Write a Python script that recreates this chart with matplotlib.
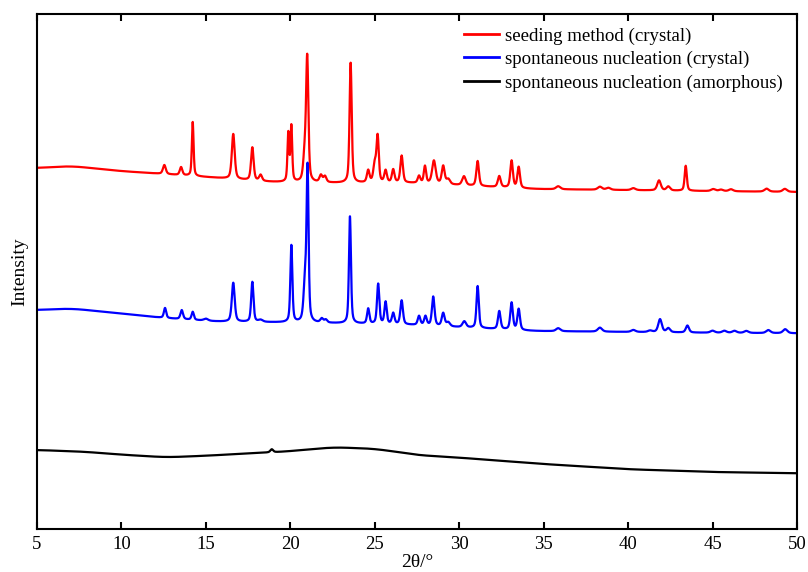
import numpy as np
import matplotlib
matplotlib.use("Agg")
import matplotlib.pyplot as plt

plt.rcParams['font.family'] = ['Liberation Serif', 'DejaVu Serif']

# ---------------- data (intensity in a.u.) ----------------
# baselines: anchor 2theta values and intensity
red_base_x = [5, 7, 9.9, 12.5, 15.8, 18.8, 22.8, 27.3, 34.4, 44.3, 50]
red_base_y = [361, 363, 358, 355, 351, 347, 346, 346, 340, 338, 337]

blue_base_x = [5, 7, 9.9, 12.5, 15.8, 18.8, 22.8, 27.3, 34.4, 44.3, 50]
blue_base_y = [219, 220.5, 215.7, 211, 207.3, 206.7, 205.7, 204, 198, 196.3, 195.7]

black_base_x = [5, 7.74, 10.31, 12.68, 15.05, 17.61, 19.58, 22.54, 24.91, 26.49, 27.48,
                30.04, 34.98, 40.1, 45.04, 50]
black_base_y = [79, 77.3, 74, 71.7, 73.3, 75.7, 77.3, 81.7, 80.3, 76.7, 74,
                71.3, 65, 59.7, 57, 55.7]

# peaks: position (2theta), height above baseline, FWHM
red_peak_pos = [12.54, 13.53, 14.22, 16.62, 17.75, 18.24, 19.88, 20.06, 20.85, 21.0,
                21.81, 22.05, 23.57, 24.61, 25.0, 25.17, 25.64, 26.09, 26.59, 27.62,
                27.97, 28.5, 29.05, 29.35, 30.28, 31.09, 32.37, 33.1, 33.52, 35.86,
                38.33, 38.83, 40.31, 41.83, 42.38, 43.41, 45.04, 45.5, 46.09, 48.2, 49.28]
red_peak_h = [9, 8, 54, 45, 33, 6, 48, 55, 25, 122,
              7, 6, 120, 12, 18, 45, 12, 13, 27, 7,
              17, 23, 18, 5, 9, 25, 11, 27, 21, 3,
              3, 2, 2, 10, 4, 25, 2, 1.5, 2, 3, 3]
red_peak_w = [0.2, 0.18, 0.12, 0.2, 0.18, 0.2, 0.12, 0.12, 0.2, 0.16,
              0.2, 0.2, 0.15, 0.18, 0.2, 0.16, 0.18, 0.18, 0.18, 0.18,
              0.16, 0.25, 0.2, 0.25, 0.25, 0.18, 0.2, 0.18, 0.18, 0.3,
              0.3, 0.3, 0.3, 0.25, 0.25, 0.15, 0.3, 0.3, 0.3, 0.3, 0.3]

blue_peak_pos = [12.58, 13.57, 14.22, 15.0, 16.62, 17.75, 18.24, 20.06, 20.87, 21.02,
                 21.86, 22.1, 23.53, 24.61, 25.2, 25.64, 26.09, 26.59, 27.62, 28.0,
                 28.46, 29.05, 29.35, 30.3, 31.09, 32.37, 33.1, 33.52, 35.86, 38.33,
                 40.31, 41.3, 41.89, 42.38, 43.51, 45.0, 45.7, 46.3, 47.0, 48.3, 49.3]
blue_peak_h = [10, 9, 8, 2, 39, 40, 2, 77, 38, 150,
               4, 3, 107, 15, 40, 22, 11, 24, 9, 9,
               29, 13, 4, 6, 42, 18, 27, 21, 3, 4,
               2, 1.5, 13, 4, 7, 2, 2, 2, 2, 3, 4]
blue_peak_w = [0.16, 0.18, 0.16, 0.3, 0.2, 0.16, 0.3, 0.14, 0.2, 0.14,
               0.2, 0.2, 0.14, 0.16, 0.16, 0.16, 0.18, 0.18, 0.18, 0.18,
               0.18, 0.2, 0.25, 0.25, 0.16, 0.18, 0.18, 0.18, 0.3, 0.3,
               0.3, 0.3, 0.25, 0.25, 0.22, 0.3, 0.3, 0.3, 0.3, 0.3, 0.3]

black_peak_pos = [18.9]
black_peak_h = [3]
black_peak_w = [0.2]

labels = ['seeding method (crystal)', 'spontaneous nucleation (crystal)',
          'spontaneous nucleation (amorphous)']
colors = ['#ff0000', '#0000ff', '#000000']
xticks = [5, 10, 15, 20, 25, 30, 35, 40, 45, 50]


def smooth_baseline(x, bx, by, win=1.6):
    # piecewise baseline through the read anchors, softened by a moving average
    dx = x[1] - x[0]
    n = max(3, int(win / dx) | 1)
    y = np.interp(x, bx, by)
    pad = n // 2
    yp = np.concatenate([np.full(pad, y[0]), y, np.full(pad, y[-1])])
    return np.convolve(yp, np.ones(n) / n, mode='valid')


def pattern(x, bx, by, pos, h, w):
    y = smooth_baseline(x, bx, by)
    for p, a, fw in zip(pos, h, w):
        s = fw / 2.0
        lor = 1.0 / (1.0 + ((x - p) / s) ** 2)
        gau = np.exp(-np.log(2) * ((x - p) / s) ** 2)
        y = y + a * (0.5 * lor + 0.5 * gau)
    return y


x = np.linspace(5, 50, 4501)
series = [
    pattern(x, red_base_x, red_base_y, red_peak_pos, red_peak_h, red_peak_w),
    pattern(x, blue_base_x, blue_base_y, blue_peak_pos, blue_peak_h, blue_peak_w),
    pattern(x, black_base_x, black_base_y, black_peak_pos, black_peak_h, black_peak_w),
]

fig = plt.figure(figsize=(8.08, 5.72), dpi=100)
ax = fig.add_axes([0.0458, 0.0752, 0.9406, 0.9003])

for y, lab, c in zip(series, labels, colors):
    ax.plot(x, y, color=c, lw=1.6, label=lab)

ax.set_xlim(5, 50)
ax.set_ylim(0, 515)
ax.set_xticks(xticks)
ax.set_yticks([])
ax.tick_params(axis='x', direction='in', top=True, bottom=True, length=5, width=1.5,
               labelsize=13.5, pad=5)
for sp in ax.spines.values():
    sp.set_linewidth(1.5)
ax.set_xlabel('2θ/°', fontsize=14, labelpad=1)
ax.set_ylabel('Intensity', fontsize=14, labelpad=6)

leg = ax.legend(loc='upper right', frameon=False, fontsize=13.6, handlelength=1.85,
                handletextpad=0.35, labelspacing=0.33, borderaxespad=0.3,
                bbox_to_anchor=(0.999, 1.0))
for l in leg.get_lines():
    l.set_linewidth(2.0)

fig.savefig('out.png', dpi=100)
